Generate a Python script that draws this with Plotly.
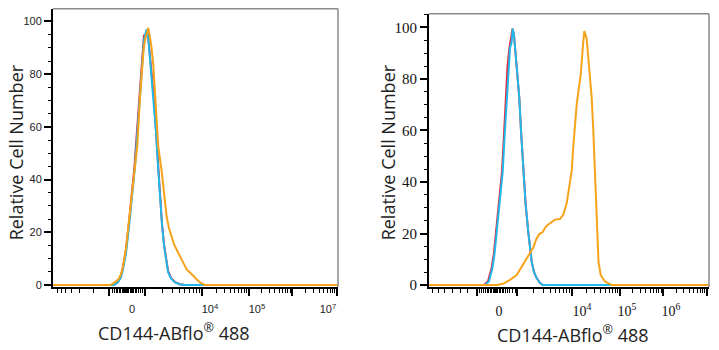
import math
import plotly.graph_objects as go

# ---------------- DATA (x in display channels of a biexponential axis, y in % of max) -------------
# Left panel
L_red_x = [0, 113.5, 117.5, 120.5, 122.5, 125.5, 128.5, 131.5, 134.5, 136.5, 138.5, 140.5, 142.5, 144, 145, 146.5, 148, 150, 152, 154, 156, 158, 160, 162, 164, 166, 168, 171, 175, 180, 185, 338]
L_red_y = [0, 0, 1, 3, 6, 12, 22, 33, 45, 56, 66, 77, 88, 95, 94, 96.5, 95, 86.5, 78.5, 70.5, 58.5, 45.5, 33, 23, 15.5, 9.5, 5.5, 2.7, 1.1, 0.3, 0, 0]
L_blue_x = [0, 114, 118, 121, 123, 126, 129, 132, 135, 137, 139, 141, 143, 144, 145.5, 146.7, 148, 150, 152, 154, 156, 158, 160, 162, 164, 166, 168, 171, 175, 180, 185, 338]
L_blue_y = [0, 0, 1, 3, 6, 12, 22, 33, 45, 56, 66, 77, 87, 93, 95.5, 97, 95, 86, 78, 70, 58, 45, 33, 23, 15, 9, 5, 2.5, 1, 0.2, 0, 0]
L_orange_x = [0, 110, 114, 118, 121, 123, 126, 129, 132, 135, 137.3, 140, 141.7, 143.5, 145, 146.7, 148.3, 150, 151.7, 153.3, 155, 158.3, 161.7, 164, 166.7, 169, 171.7, 174, 176.7, 180, 183.3, 186.7, 190, 193.3, 196.5, 200, 205, 338]
L_orange_y = [0, 0, 0.8, 2, 4, 7, 14, 24, 35, 44, 53, 71, 82, 89, 93, 95.8, 97.6, 94, 89.6, 83.4, 71, 52.4, 43.1, 34, 25.8, 21.5, 18.3, 15.5, 13.4, 10.7, 8.4, 5.9, 4.5, 3.5, 2.2, 1.0, 0, 0]

# Right panel
R_red_x = [429, 484, 488, 491.5, 493.8, 496, 498.3, 500.3, 502, 503.8, 505.8, 507.5, 509.3, 511.7, 512.5, 514, 516.7, 519.3, 521, 523.3, 525.5, 528.3, 530, 531.7, 534, 536.7, 540, 543, 709]
R_red_y = [0, 0, 1.5, 6.4, 12, 20.5, 30, 38, 44, 57, 72.7, 85, 91.7, 99, 99.5, 97, 85, 72.7, 60, 44, 32, 20.5, 14, 9, 5, 2.7, 0.8, 0, 0]
R_blue_x = [429, 485, 489, 492.3, 494.5, 496.7, 499, 501, 502.7, 504.5, 506.7, 508.5, 510, 511.5, 512.7, 514, 516.7, 519.3, 521, 523.3, 525.5, 528.3, 530, 531.7, 534, 536.7, 540, 543, 709]
R_blue_y = [0, 0, 1.5, 6.4, 12, 20.5, 30, 38, 44, 57, 72.7, 85, 92, 94, 99.5, 97, 85, 72.7, 60, 44, 32, 20.5, 14, 9, 5, 2.7, 0.8, 0, 0]
R_orange_x = [429, 497, 503, 510, 516.7, 522.7, 526.7, 530, 533.3, 536, 539, 542.7, 545.5, 548.3, 551.5, 555, 560, 563.3, 566.7, 569.3, 571.7, 573.3, 575, 576.7, 578.7, 580.7, 582.7, 584.3, 586.7, 589.3, 591.7, 593.3, 595, 596.5, 597.5, 598.5, 600.7, 605, 611.7, 709]
R_orange_y = [0, 0, 0.5, 2, 3.9, 7.7, 10.2, 12.3, 14.6, 17.5, 19.7, 20.6, 22.5, 23.5, 24.5, 25.4, 25.6, 27.3, 31.7, 38, 44.3, 53.8, 62.6, 70.2, 76, 81.6, 91.7, 98.6, 95.5, 84, 72.7, 60, 44.3, 30, 18, 9, 3.9, 1.4, 0, 0]

# Axis ticks (display channels)
L_major_ticks = [109, 145, 202, 249, 292, 337]
L_minor_ticks = [57, 61, 65, 71, 79, 93, 112, 114, 116, 117.5, 119, 120.5, 122, 123, 124,
                 125.5, 126, 126.5, 127, 127.5, 128, 128.5,
                 130, 131, 132, 133.5, 135, 136.5, 138, 140, 142]
L_decades = [145, 202, 249, 292, 337]
L_label_pos = [132, 210, 257, 328]
L_label_text = ["0", "10<sup>4</sup>", "10<sup>5</sup>", "10<sup>7</sup>"]

R_major_ticks = [477, 517, 572, 620, 663, 707]
R_minor_ticks = [432, 438, 444, 452, 460, 467, 479, 481, 483, 485, 487, 488.5, 490, 491.5,
                 493, 493.5, 494, 494.5, 495, 495.5, 496, 496.5, 497,
                 499, 500.5, 502, 503.5, 505, 507, 509, 512, 515]
R_decades = [517, 572, 620, 663, 707]
R_label_pos = [499, 582, 627, 671]
R_label_text = ["0", "10<sup>4</sup>", "10<sup>5</sup>", "10<sup>6</sup>"]

Y_TITLE = "Relative Cell Number"
X_TITLE = "CD144-ABflo<sup>®</sup> 488"

# ---------------- FIGURE ----------------
W, H = 719, 350
L_left, L_right = 53, 338
R_left, R_right = 429, 709

RED, BLUE, ORANGE = "#e8263a", "#1fb8ea", "#f7a21b"


def shift(xs, off):
    return [x - off for x in xs]


def log_minor(decs, off):
    out = []
    for a, b in zip(decs[:-1], decs[1:]):
        for k in range(2, 10):
            out.append(a + (b - a) * math.log10(k) - off)
    return out


fig = go.Figure()
for xs, ys, c in [(L_red_x, L_red_y, RED), (L_blue_x, L_blue_y, BLUE), (L_orange_x, L_orange_y, ORANGE)]:
    fig.add_trace(go.Scatter(x=shift(xs, L_left), y=ys, mode="lines", line=dict(color=c, width=2),
                             xaxis="x", yaxis="y", showlegend=False, hoverinfo="skip"))
for xs, ys, c in [(R_red_x, R_red_y, RED), (R_blue_x, R_blue_y, BLUE), (R_orange_x, R_orange_y, ORANGE)]:
    fig.add_trace(go.Scatter(x=shift(xs, R_left), y=ys, mode="lines", line=dict(color=c, width=2),
                             xaxis="x2", yaxis="y2", showlegend=False, hoverinfo="skip"))
# empty traces so that the label axes are drawn
fig.add_trace(go.Scatter(x=[], y=[], xaxis="x3", yaxis="y", showlegend=False, hoverinfo="skip"))
fig.add_trace(go.Scatter(x=[], y=[], xaxis="x4", yaxis="y2", showlegend=False, hoverinfo="skip"))

ydom_L = [(H - 292) / H, (H - 9) / H]
ydom_R = [(H - 292) / H, (H - 14) / H]

sans_tick = dict(family="Liberation Sans, Arial", size=11, color="#222")
serif_tick = dict(family="Liberation Serif, Times New Roman", size=15, color="#111")
serif_xtick = dict(family="Liberation Serif, Times New Roman", size=14, color="#111")


def xaxis_ticks(dom, rng, majors, minors, anchor):
    return dict(domain=dom, range=rng, anchor=anchor, showgrid=False, zeroline=False,
                showline=True, linecolor="black", linewidth=2,
                ticks="outside", tickvals=majors, ticklen=7, tickwidth=1.5, tickcolor="black",
                showticklabels=False,
                minor=dict(tickmode="array", tickvals=minors, ticks="outside", ticklen=4,
                           tickwidth=1, tickcolor="black"))


xa = xaxis_ticks([L_left / W, L_right / W], [0, L_right - L_left], shift(L_major_ticks, L_left),
                 shift(L_minor_ticks, L_left) + log_minor(L_decades, L_left), "y")
xa2 = xaxis_ticks([R_left / W, R_right / W], [0, R_right - R_left], shift(R_major_ticks, R_left),
                  shift(R_minor_ticks, R_left) + log_minor(R_decades, R_left), "y2")

xa3 = dict(overlaying="x", anchor="y", side="bottom", range=[0, L_right - L_left],
           showgrid=False, zeroline=False, showline=False,
           tickmode="array", tickvals=shift(L_label_pos, L_left), ticktext=L_label_text,
           ticks="outside", ticklen=12, tickcolor="rgba(0,0,0,0)", tickfont=sans_tick)
xa4 = dict(overlaying="x2", anchor="y2", side="bottom", range=[0, R_right - R_left],
           showgrid=False, zeroline=False, showline=False,
           tickmode="array", tickvals=shift(R_label_pos, R_left), ticktext=R_label_text,
           ticks="outside", ticklen=11, tickcolor="rgba(0,0,0,0)", tickfont=serif_xtick)


def yaxis(dom, rng, anchor, font):
    return dict(domain=dom, range=rng, anchor=anchor, showgrid=False, zeroline=False,
                showline=True, linecolor="black", linewidth=2,
                tickmode="linear", tick0=0, dtick=20, ticks="outside", ticklen=7, tickwidth=2,
                tickcolor="black", tickfont=font,
                minor=dict(dtick=5, tick0=0, ticks="outside", ticklen=3, tickwidth=1, tickcolor="black"))


ya = yaxis(ydom_L, [-0.75, 104.8], "x", sans_tick)
ya2 = yaxis(ydom_R, [-0.75, 105.3], "x2", serif_tick)

title_font = dict(family="Open Sans, Noto Sans", size=18, color="#222")
annotations = [
    dict(text=X_TITLE, x=174 / W, y=(H - 338) / H, xref="paper", yref="paper", showarrow=False,
         xanchor="center", yanchor="middle", font=title_font),
    dict(text=X_TITLE, x=573 / W, y=(H - 340) / H, xref="paper", yref="paper", showarrow=False,
         xanchor="center", yanchor="middle", font=title_font),
    dict(text=Y_TITLE, x=16 / W, y=(H - 155) / H, xref="paper", yref="paper", showarrow=False,
         xanchor="center", yanchor="middle", textangle=-90, font=title_font),
    dict(text=Y_TITLE, x=388 / W, y=(H - 155) / H, xref="paper", yref="paper", showarrow=False,
         xanchor="center", yanchor="middle", textangle=-90, font=title_font),
]

frame = "#8a8a8a"
shapes = []
for xr, yr in [("x", "y"), ("x2", "y2")]:
    shapes.append(dict(type="line", xref=xr + " domain", yref=yr + " domain", x0=0, x1=1, y0=1, y1=1,
                       line=dict(color=frame, width=1.5)))
    shapes.append(dict(type="line", xref=xr + " domain", yref=yr + " domain", x0=1, x1=1, y0=0, y1=1,
                       line=dict(color=frame, width=1.5)))

fig.update_layout(
    width=W, height=H, margin=dict(l=0, r=0, t=0, b=0),
    paper_bgcolor="white", plot_bgcolor="white",
    xaxis=xa, xaxis2=xa2, xaxis3=xa3, xaxis4=xa4, yaxis=ya, yaxis2=ya2,
    annotations=annotations, shapes=shapes, showlegend=False,
)

fig.write_html("out.html")
